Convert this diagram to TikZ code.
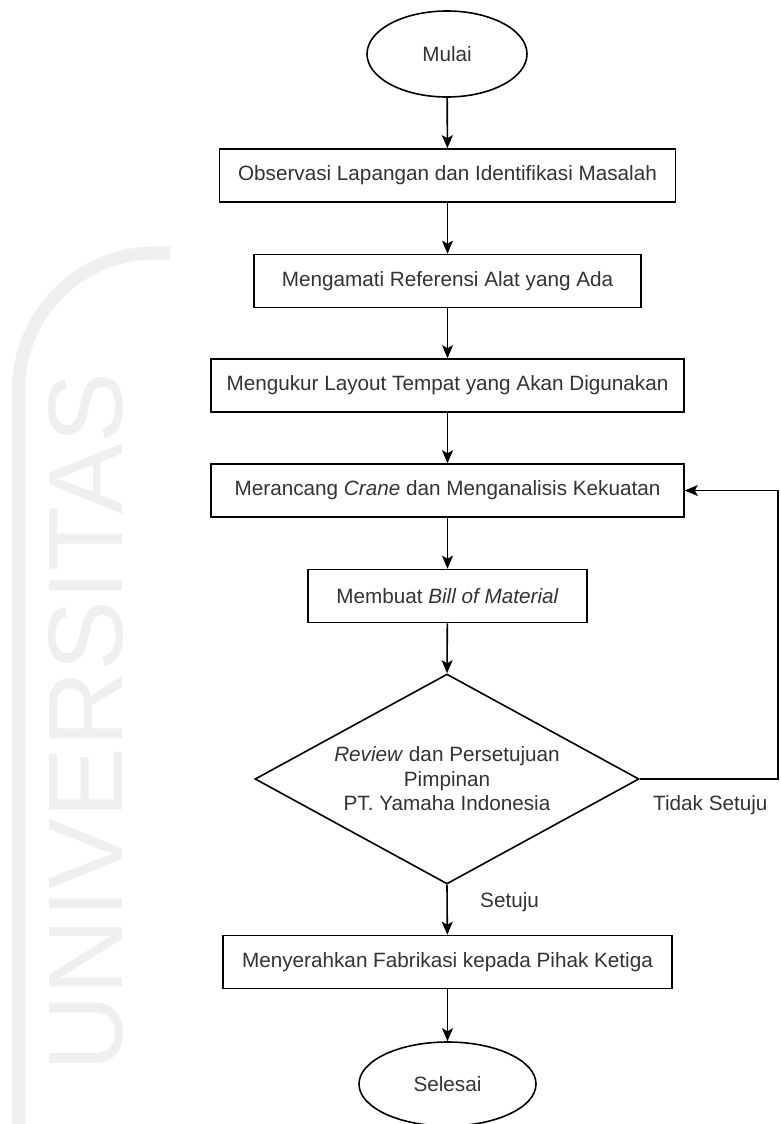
\documentclass[tikz,border=0pt]{standalone}
\usepackage{fontspec}
\setmainfont{Liberation Sans}
\usetikzlibrary{shapes.geometric,arrows.meta}
\definecolor{txt}{HTML}{333333}
\definecolor{wm}{HTML}{EFEFEF}
\begin{document}
\begin{tikzpicture}[x=1pt,y=-1pt,
  every node/.style={text=txt, font=\fontsize{20.7}{24.5}\selectfont},
  box/.style={draw=black, line width=1.6pt, rectangle, minimum height=53pt, inner sep=0pt, fill=white},
  term/.style={draw=black, line width=1.6pt, ellipse, inner sep=0pt, fill=white},
  dec/.style={draw=black, line width=1.6pt, diamond, aspect=1.83, inner sep=0pt, minimum width=384pt, minimum height=210pt, align=center, fill=white},
  arr/.style={draw=black, line width=1.6pt, -{Stealth[length=13pt,width=11pt,inset=3pt]}},
  lbl/.style={anchor=west, inner sep=0pt},
  wmark/.style={text=wm, inner sep=0pt, font=\fontsize{106}{106}\selectfont}
]
\useasboundingbox (0,0) rectangle (780,1124);
\fill[white] (0,0) rectangle (780,1124);

% watermark
\draw[wm, line width=13pt] (18.5,1130) -- (18.5,390) .. controls (18.5,314.4) and (79.4,253) .. (155,253) -- (170,253);
\node[wmark, rotate=90, anchor=base west] (wmtext) at (122,1072) {UNIVERSITAS};

% nodes
\node[term, minimum width=160pt, minimum height=86pt] (start) at (447,54) {Mulai};
\node[box, minimum width=456pt] (b1) at (447.5,175.5) {Observasi Lapangan dan Identifikasi Masalah};
\node[box, minimum width=387pt] (b2) at (447.5,281) {Mengamati Referensi Alat yang Ada};
\node[box, minimum width=473pt] (b3) at (447.5,385.5) {Mengukur Layout Tempat yang Akan Digunakan};
\node[box, minimum width=473pt] (b4) at (447.5,490.5) {Merancang \textit{Crane} dan Menganalisis Kekuatan};
\node[box, minimum width=279pt] (b5) at (447.5,596) {Membuat \textit{Bill of Material}};
\node[dec] (d) at (447,779) {\textit{Review} dan Persetujuan\\Pimpinan\\PT. Yamaha Indonesia};
\node[box, minimum width=449pt] (b6) at (447.5,962) {Menyerahkan Fabrikasi kepada Pihak Ketiga};
\node[term, minimum width=177pt, minimum height=84pt] (end) at (447.5,1084) {Selesai};

% labels
\node[lbl] (lsetuju) at (480,902) {Setuju};
\node[lbl] (ltidak) at (653,805) {Tidak Setuju};

% connectors
\draw[arr] (start) -- (b1);
\draw[arr] (b1) -- (b2);
\draw[arr] (b2) -- (b3);
\draw[arr] (b3) -- (b4);
\draw[arr] (b4) -- (b5);
\draw[arr] (b5) -- (d.north);
\draw[arr] (d.south) -- (b6);
\draw[arr] (b6) -- (end);
\coordinate (lp) at (778,779);
\draw[arr] (d.east) -- (lp) |- (b4.east);
\end{tikzpicture}
\end{document}
